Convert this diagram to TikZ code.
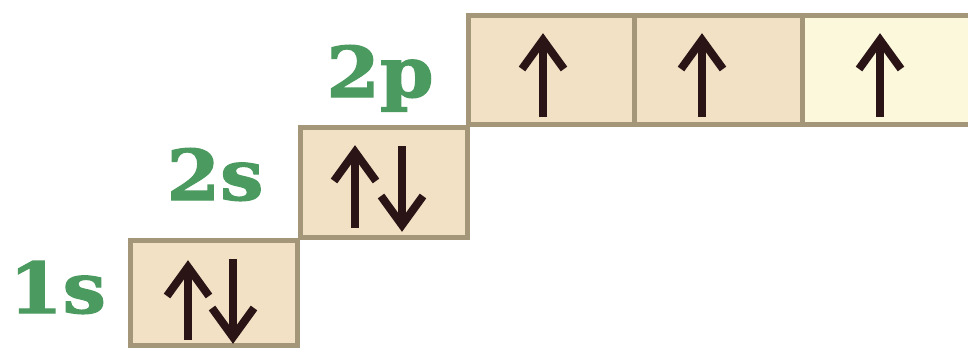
\documentclass[tikz,border=0pt]{standalone}
\usepackage{fontspec}
\newfontfamily\labfont{DejaVu Serif}[BoldFeatures={FakeBold=1.6}]
\definecolor{beige}{HTML}{F2E1C5}
\definecolor{paleyel}{HTML}{FCF8DC}
\definecolor{boxc}{HTML}{A49679}
\definecolor{spinc}{HTML}{2A1416}
\definecolor{labg}{HTML}{4B9A5F}
\tikzset{
  orb/.style={draw=boxc, line width=5pt, fill=beige, minimum width=167pt, minimum height=108pt, inner sep=0pt, outer sep=0pt},
  spin/.style={draw=spinc, line width=8pt, line cap=butt, line join=miter},
  lab/.style={text=labg, font=\labfont\bfseries\fontsize{70}{70}\selectfont, anchor=base, inner sep=0pt, xscale=1.1}
}
\newcommand{\spup}[3]{% x, top, bottom
  \draw[spin] (#1,#3) -- (#1,#2+4);
  \draw[spin] (#1-21,#2+34) -- (#1,#2+5) -- (#1+21,#2+34);}
\newcommand{\spdn}[3]{% x, top, bottom(tip)
  \draw[spin] (#1,#2) -- (#1,#3-4);
  \draw[spin] (#1-21,#3-34) -- (#1,#3-5) -- (#1+21,#3-34);}
\begin{document}
\begin{tikzpicture}[x=1pt,y=-1pt]
\useasboundingbox (0,0) rectangle (968,351);
\clip (0,0) rectangle (968,351);
% orbital boxes
\node[orb, minimum height=105pt] (s1) at (213.5,292.5) {};
\node[orb, minimum height=110pt] (s2) at (383.5,182) {};
\node[orb, minimum width=166pt, minimum height=109pt] (p1) at (551,69.5) {};
\node[orb, minimum width=168pt, minimum height=109pt] (p2) at (718,69.5) {};
\node[orb, fill=paleyel, minimum width=173pt, minimum height=109pt] (p3) at (888.5,69.5) {};
% labels
\node[lab] (l1) at (57.5,313) {1s};
\node[lab] (l2) at (215,200) {2s};
\node[lab] (l3) at (380,97) {2p};
% spins
\spup{188}{262}{340}
\spdn{233}{259}{342}
\spup{355}{147}{228}
\spdn{402}{146}{230}
\spup{543}{35}{117}
\spup{702}{35}{117}
\spup{880}{35}{117}
\end{tikzpicture}
\end{document}
